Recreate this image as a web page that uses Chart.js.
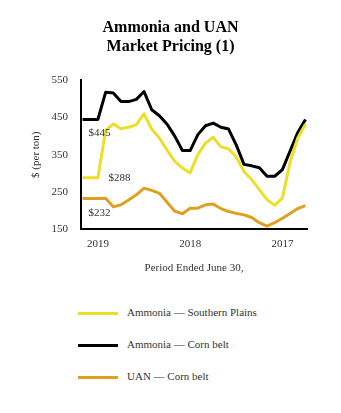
<!DOCTYPE html>
<html>
<head>
<meta charset="utf-8">
<script src="https://cdn.jsdelivr.net/npm/chart.js@4"></script>
<style>
  body { margin: 0; background: #fff; width: 341px; height: 413px; position: relative; overflow: hidden; }
  #wrap { position: absolute; left: 0; top: 0; width: 341px; height: 300px; }
  .leg { position: absolute; left: 78px; font: 11px "Liberation Serif", "Times New Roman", serif; color: #333; }
  .leg span.swatch { position: absolute; left: 0; top: 5px; width: 40px; height: 3px; }
  .leg span.txt { position: absolute; left: 49px; top: -1px; white-space: nowrap; }
</style>
</head>
<body>
<div id="wrap"><canvas id="chart1"></canvas></div>
<div id="legend"></div>
<script>
// monthly points, newest (June 2019) on the left
var months = ["Aug 2019","Jul 2019","Jun 2019","May 2019","Apr 2019","Mar 2019","Feb 2019","Jan 2019","Dec 2018","Nov 2018",
  "Oct 2018","Sep 2018","Aug 2018","Jul 2018","Jun 2018","May 2018","Apr 2018","Mar 2018","Feb 2018","Jan 2018",
  "Dec 2017","Nov 2017","Oct 2017","Sep 2017","Aug 2017","Jul 2017","Jun 2017","May 2017","Apr 2017","Mar 2017"];
var ammoniaSouthernPlains = [288, 288, 288, 415, 433, 420, 424, 431, 460, 419,
  395, 362, 332, 314, 301, 350, 381, 397, 371, 366,
  344, 305, 283, 256, 229, 214, 233, 330, 395, 432];
var ammoniaCornBelt = [445, 445, 445, 518, 516, 493, 493, 499, 520, 471,
  455, 432, 400, 361, 361, 404, 428, 435, 424, 419,
  376, 324, 320, 315, 292, 292, 310, 360, 410, 445];
var uanCornBelt = [232, 232, 232, 233, 210, 215, 228, 242, 260, 254,
  246, 222, 198, 191, 206, 206, 215, 217, 205, 197,
  192, 188, 181, 167, 158, 167, 179, 192, 205, 213];
var tickLabels = {2: "2019", 14: "2018", 26: "2017"};
var yTicks = [150, 250, 350, 450, 550];

var seriesNames = ["Ammonia \u2014 Southern Plains", "Ammonia \u2014 Corn belt", "UAN \u2014 Corn belt"];
var seriesColors = ["#ECDE2A", "#000000", "#DDA020"];

var serif = "'Liberation Serif', 'Times New Roman', serif";

function toPoints(arr) {
  return arr.map(function (v, i) { return {x: i, y: v}; });
}

// start value labels ($445 etc.)
var startLabels = {
  id: 'startLabels',
  afterDatasetsDraw: function (chart) {
    var ctx = chart.ctx;
    var xs = chart.scales.x, ys = chart.scales.y;
    var spec = [
      {v: ammoniaCornBelt[0], dx: 6, dy: 14},
      {v: ammoniaSouthernPlains[0], dx: 26, dy: 0},
      {v: uanCornBelt[0], dx: 6, dy: 15}
    ];
    ctx.save();
    ctx.font = "11px " + serif;
    ctx.fillStyle = "#333";
    ctx.textBaseline = "middle";
    spec.forEach(function (s) {
      ctx.fillText("$" + s.v, xs.getPixelForValue(0) + s.dx, ys.getPixelForValue(s.v) + s.dy);
    });
    ctx.restore();
  }
};

var ctx = document.getElementById('chart1');
var myChart = new Chart(ctx, {
  type: 'line',
  data: {
    datasets: [
      {label: seriesNames[0], data: toPoints(ammoniaSouthernPlains), borderColor: seriesColors[0]},
      {label: seriesNames[1], data: toPoints(ammoniaCornBelt), borderColor: seriesColors[1]},
      {label: seriesNames[2], data: toPoints(uanCornBelt), borderColor: seriesColors[2]}
    ]
  },
  options: {
    responsive: true,
    maintainAspectRatio: false,
    animation: false,
    elements: {
      point: {radius: 0},
      line: {borderWidth: 3, tension: 0, borderJoinStyle: 'round', borderCapStyle: 'butt'}
    },
    layout: {padding: {left: 0, right: 0, top: 0, bottom: 21}},
    plugins: {
      legend: {display: false},
      tooltip: {enabled: false},
      title: {
        display: true,
        text: ["Ammonia and UAN", "Market Pricing (1)"],
        color: "#000",
        font: {family: serif, size: 16, weight: 'bold', lineHeight: 1.2},
        padding: {top: 18, bottom: 24}
      }
    },
    scales: {
      x: {
        type: 'linear',
        min: -0.2,
        max: 29.2,
        grid: {display: false, drawTicks: false},
        border: {display: true, color: "#000", width: 2},
        afterBuildTicks: function (scale) {
          scale.ticks = Object.keys(tickLabels).map(function (k) { return {value: +k}; });
        },
        ticks: {
          autoSkip: false,
          maxRotation: 0,
          padding: 9,
          color: "#333",
          font: {family: serif, size: 11},
          callback: function (v) { return tickLabels[v] || ""; }
        },
        title: {
          display: true,
          text: "Period Ended June 30,",
          color: "#333",
          font: {family: serif, size: 11},
          padding: {top: 0, bottom: 4}
        },
        afterFit: function (scale) { scale.height = 50; }
      },
      y: {
        min: 150,
        max: 550,
        grid: {display: false, drawTicks: false},
        border: {display: true, color: "#000", width: 2},
        afterBuildTicks: function (scale) {
          scale.ticks = yTicks.map(function (v) { return {value: v}; });
        },
        ticks: {
          padding: 13,
          color: "#333",
          font: {family: serif, size: 11}
        },
        title: {
          display: true,
          text: "$ (per ton)",
          color: "#333",
          font: {family: serif, size: 11},
          padding: {top: 30, bottom: 0}
        },
        afterFit: function (scale) { scale.width = 81; }
      },
      // empty right-hand spacer so the title stays centred on the page
      yRight: {
        position: 'right',
        min: 150,
        max: 550,
        grid: {display: false, drawTicks: false},
        border: {display: false},
        ticks: {display: false},
        afterFit: function (scale) { scale.width = 34; }
      }
    }
  },
  plugins: [startLabels]
});

// legend under the chart
var legendTops = [307, 339, 371];
var legend = document.getElementById('legend');
seriesNames.forEach(function (name, i) {
  var row = document.createElement('div');
  row.className = 'leg';
  row.style.top = legendTops[i] + 'px';
  row.innerHTML = '<span class="swatch" style="background:' + seriesColors[i] + '"></span><span class="txt">' + name + '</span>';
  legend.appendChild(row);
});
</script>
</body>
</html>
